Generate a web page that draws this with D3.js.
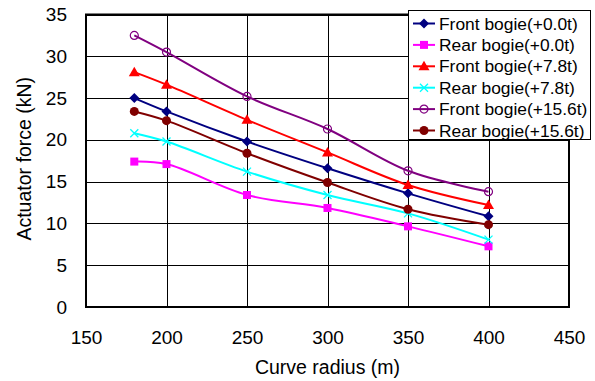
<!DOCTYPE html>
<html><head><meta charset="utf-8">
<script src="https://cdn.jsdelivr.net/npm/d3@7"></script>
<style>body{margin:0;background:#fff}svg{display:block}text{font-family:"Liberation Sans",Arial,sans-serif;fill:#000}</style>
</head><body><svg id="c" width="595" height="381"></svg>
<script>
const radius = [180, 200, 250, 300, 350, 400];
const frontBogie00 = [25.0, 23.4, 19.8, 16.6, 13.6, 10.85];
const rearBogie00 = [17.4, 17.1, 13.4, 11.85, 9.65, 7.26];
const frontBogie78 = [28.1, 26.6, 22.4, 18.5, 14.6, 12.2];
const rearBogie78 = [20.8, 19.8, 16.2, 13.4, 11.2, 8.06];
const frontBogie156 = [32.5, 30.5, 25.2, 21.3, 16.3, 13.8];
const rearBogie156 = [23.4, 22.3, 18.4, 14.9, 11.7, 9.85];
const seriesNames = ["Front bogie(+0.0t)", "Rear bogie(+0.0t)", "Front bogie(+7.8t)", "Rear bogie(+7.8t)", "Front bogie(+15.6t)", "Rear bogie(+15.6t)"];
const xTicks = [150, 200, 250, 300, 350, 400, 450];
const yTicks = [0, 5, 10, 15, 20, 25, 30, 35];

const series = [
  {name: seriesNames[0], values: frontBogie00, color: "#000080", marker: "diamond"},
  {name: seriesNames[1], values: rearBogie00, color: "#ff00ff", marker: "square"},
  {name: seriesNames[2], values: frontBogie78, color: "#ff0000", marker: "triangle"},
  {name: seriesNames[3], values: rearBogie78, color: "#00ffff", marker: "x"},
  {name: seriesNames[4], values: frontBogie156, color: "#800080", marker: "ocircle"},
  {name: seriesNames[5], values: rearBogie156, color: "#800000", marker: "circle"}
];

const svg = d3.select("#c");
const L = 86, R = 569, T = 14.5, B = 307;
const x = d3.scaleLinear().domain([150, 450]).range([L, R]);
const y = d3.scaleLinear().domain([0, 35]).range([B, T]);

// gridlines
const g = svg.append("g");
g.selectAll(".hg").data(yTicks).join("line")
  .attr("x1", L).attr("x2", R).attr("y1", d => Math.round(y(d)) + 0.5).attr("y2", d => Math.round(y(d)) + 0.5)
  .attr("stroke", "#000").attr("stroke-width", 1);
g.selectAll(".vg").data(xTicks).join("line")
  .attr("y1", T).attr("y2", B).attr("x1", d => Math.round(x(d)) + 0.5).attr("x2", d => Math.round(x(d)) + 0.5)
  .attr("stroke", "#000").attr("stroke-width", 1);
// border
svg.append("rect").attr("x", L).attr("y", T).attr("width", R - L).attr("height", B - T)
  .attr("fill", "none").attr("stroke", "#000").attr("stroke-width", 2);

// axes labels via d3 axes
const xAxis = svg.append("g").attr("transform", `translate(0,${B})`)
  .call(d3.axisBottom(x).tickValues(xTicks).tickSize(0).tickPadding(24));
xAxis.select(".domain").remove();
xAxis.selectAll("text").attr("font-size", 19).attr("font-family", "Liberation Sans, Arial, sans-serif").attr("fill", "#000");
const yAxis = svg.append("g").attr("transform", `translate(${L},0)`)
  .call(d3.axisLeft(y).tickValues(yTicks).tickSize(0).tickPadding(19));
yAxis.select(".domain").remove();
yAxis.selectAll("text").attr("font-size", 19).attr("font-family", "Liberation Sans, Arial, sans-serif").attr("fill", "#000");

svg.append("text").attr("x", (L + R) / 2 + 0).attr("y", 374).attr("text-anchor", "middle")
  .attr("font-size", 19.5).text("Curve radius (m)");
svg.append("text").attr("transform", `translate(30.5,${(T + B) / 2 - 2}) rotate(-90)`).attr("text-anchor", "middle")
  .attr("font-size", 19.5).text("Actuator force (kN)");

function drawMarker(sel, type, color) {
  if (type === "diamond") sel.append("path").attr("d", "M0,-5L5,0L0,5L-5,0Z").attr("fill", color);
  else if (type === "square") sel.append("rect").attr("x", -4).attr("y", -4).attr("width", 8).attr("height", 8).attr("fill", color);
  else if (type === "triangle") sel.append("path").attr("d", "M0,-5.5L5.5,4L-5.5,4Z").attr("fill", color);
  else if (type === "x") sel.append("path").attr("d", "M-4,-4L4,4M-4,4L4,-4").attr("stroke", color).attr("stroke-width", 1.3).attr("fill", "none");
  else if (type === "ocircle") sel.append("circle").attr("r", 4).attr("fill", "#fff").attr("fill-opacity", 0).attr("stroke", color).attr("stroke-width", 1.2);
  else if (type === "circle") sel.append("circle").attr("r", 4.5).attr("fill", color);
}

const line = d3.line().x(d => x(d[0])).y(d => y(d[1])).curve(d3.curveCatmullRom.alpha(0.5));
series.forEach(s => {
  const pts = radius.map((r, i) => [r, s.values[i]]);
  svg.append("path").attr("d", line(pts)).attr("fill", "none").attr("stroke", s.color).attr("stroke-width", 2);
  pts.forEach(p => {
    const m = svg.append("g").attr("transform", `translate(${x(p[0])},${y(p[1])})`);
    drawMarker(m, s.marker, s.color);
  });
});

// legend
const lg = svg.append("g");
lg.append("rect").attr("x", 408.5).attr("y", 10.5).attr("width", 182).attr("height", 129)
  .attr("fill", "#fff").attr("stroke", "#000").attr("stroke-width", 1);
series.forEach((s, i) => {
  const cy = 23.5 + i * 21.4;
  lg.append("line").attr("x1", 413).attr("x2", 435).attr("y1", cy).attr("y2", cy).attr("stroke", s.color).attr("stroke-width", 2);
  const m = lg.append("g").attr("transform", `translate(424,${cy})`);
  drawMarker(m, s.marker, s.color);
  lg.append("text").attr("x", 439).attr("y", cy + 6).attr("font-size", 17.4).text(s.name);
});
</script></body></html>
